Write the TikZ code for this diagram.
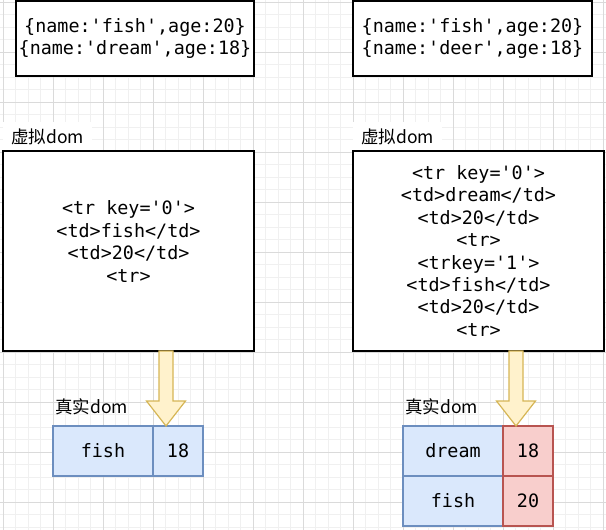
\documentclass[tikz,border=0pt]{standalone}
\usepackage{fontspec}
\newfontfamily\codefont{DejaVu Sans Mono}
\newfontfamily\cjkfont{Noto Sans CJK SC}
\usetikzlibrary{positioning}
\definecolor{gridmajor}{HTML}{DADADA}
\definecolor{gridminor}{HTML}{F0F0F0}
\definecolor{cellblue}{HTML}{DAE8FC}
\definecolor{lineblue}{HTML}{6C8EBF}
\definecolor{cellred}{HTML}{F8CECC}
\definecolor{linered}{HTML}{B85450}
\definecolor{arrowfill}{HTML}{FFF2CC}
\definecolor{arrowline}{HTML}{D6B656}
\tikzset{
    codebox/.style = {draw, fill=white, line width=1.2pt, inner sep=0pt, outer sep=0pt,
                      align=center, font=\codefont\fontsize{18.4}{22.4}\selectfont},
    codetext/.style = {inner sep=0pt, align=center, font=\codefont\fontsize{18.4}{22.4}\selectfont},
    tag/.style = {inner sep=0pt, font=\cjkfont\fontsize{17.5}{20}\selectfont},
    bluecell/.style = {draw=lineblue, fill=cellblue, line width=1.2pt, inner sep=0pt, outer sep=0pt,
                       minimum width=100pt, minimum height=50pt, font=\codefont\fontsize{18.4}{22.4}\selectfont},
    redcell/.style = {bluecell, draw=linered, fill=cellred, minimum width=50pt},
    blockarrow/.style = {draw=arrowline, fill=arrowfill, line width=1.2pt},
}

\begin{document}
\begin{tikzpicture}[x=1pt, y=-1pt]
    \useasboundingbox[fill=white] (0,0) rectangle (606,530);

    % grid
    \foreach \i in {0,...,48} \draw[gridminor, line width=1pt] ({3+12.5*\i},0) -- ({3+12.5*\i},530);
    \foreach \i in {0,...,42} \draw[gridminor, line width=1pt] (0,{2+12.5*\i}) -- (606,{2+12.5*\i});
    \foreach \i in {0,...,12} \draw[gridmajor, line width=1pt] ({3+50*\i},0) -- ({3+50*\i},530);
    \foreach \i in {0,...,10} \draw[gridmajor, line width=1pt] (0,{2+50*\i}) -- (606,{2+50*\i});

    % data
    \node[codebox, minimum width=238pt, minimum height=75pt] (dataL) at (135,38.5)
        {\{name:'fish',age:20\}\\\{name:'dream',age:18\}};
    \node[codebox, minimum width=239pt, minimum height=75pt] (dataR) at (472.5,38.5)
        {\{name:'fish',age:20\}\\\{name:'deer',age:18\}};

    % virtual dom
    \node[tag, fill=white, minimum width=89pt, minimum height=29pt] (vlabelL) at (47.5,136.5) {虚拟dom};
    \node[tag, fill=white, minimum width=89pt, minimum height=29pt] (vlabelR) at (397.5,136.5) {虚拟dom};

    \node[codebox, minimum width=251pt, minimum height=200pt] (vdomL) at (128.5,251) {};
    \node[codetext] (vtextL) at (128.5,241.5)
        {<tr key='0'>\\<td>fish</td>\\<td>20</td>\\<tr>};
    \node[codebox, minimum width=251pt, minimum height=200pt] (vdomR) at (478.5,251)
        {<tr key='0'>\\<td>dream</td>\\<td>20</td>\\<tr>\\<trkey='1'>\\<td>fish</td>\\<td>20</td>\\<tr>};

    % real dom
    \node[tag] (rlabelL) at (91.5,406.5) {真实dom};
    \node[tag] (rlabelR) at (441.5,406.5) {真实dom};

    \node[bluecell] (fishL) at (103,451) {fish};
    \node[bluecell, minimum width=50pt] (ageL) [right = 0pt of fishL] {18};

    \node[bluecell] (dreamR) at (453,451) {dream};
    \node[redcell] (ageRa) [right = 0pt of dreamR] {18};
    \node[bluecell] (fishR) [below = 0pt of dreamR] {fish};
    \node[redcell] (ageRb) [right = 0pt of fishR] {20};

    % arrows
    \coordinate (arrL) at (166,0 |- vdomL.south);
    \coordinate (tipL) at (166,0 |- fishL.north);
    \coordinate (arrR) at (516,0 |- vdomR.south);
    \coordinate (tipR) at (516,0 |- dreamR.north);

    \draw[blockarrow] (arrL) ++(-7,0) -- ++(0,50) -- ++(-12.5,0) -- (tipL)
        -- ++(19.5,-25) -- ++(-12.5,0) -- ++(0,-50) -- cycle;
    \draw[blockarrow] (arrR) ++(-7,0) -- ++(0,50) -- ++(-12.5,0) -- (tipR)
        -- ++(19.5,-25) -- ++(-12.5,0) -- ++(0,-50) -- cycle;
\end{tikzpicture}
\end{document}
